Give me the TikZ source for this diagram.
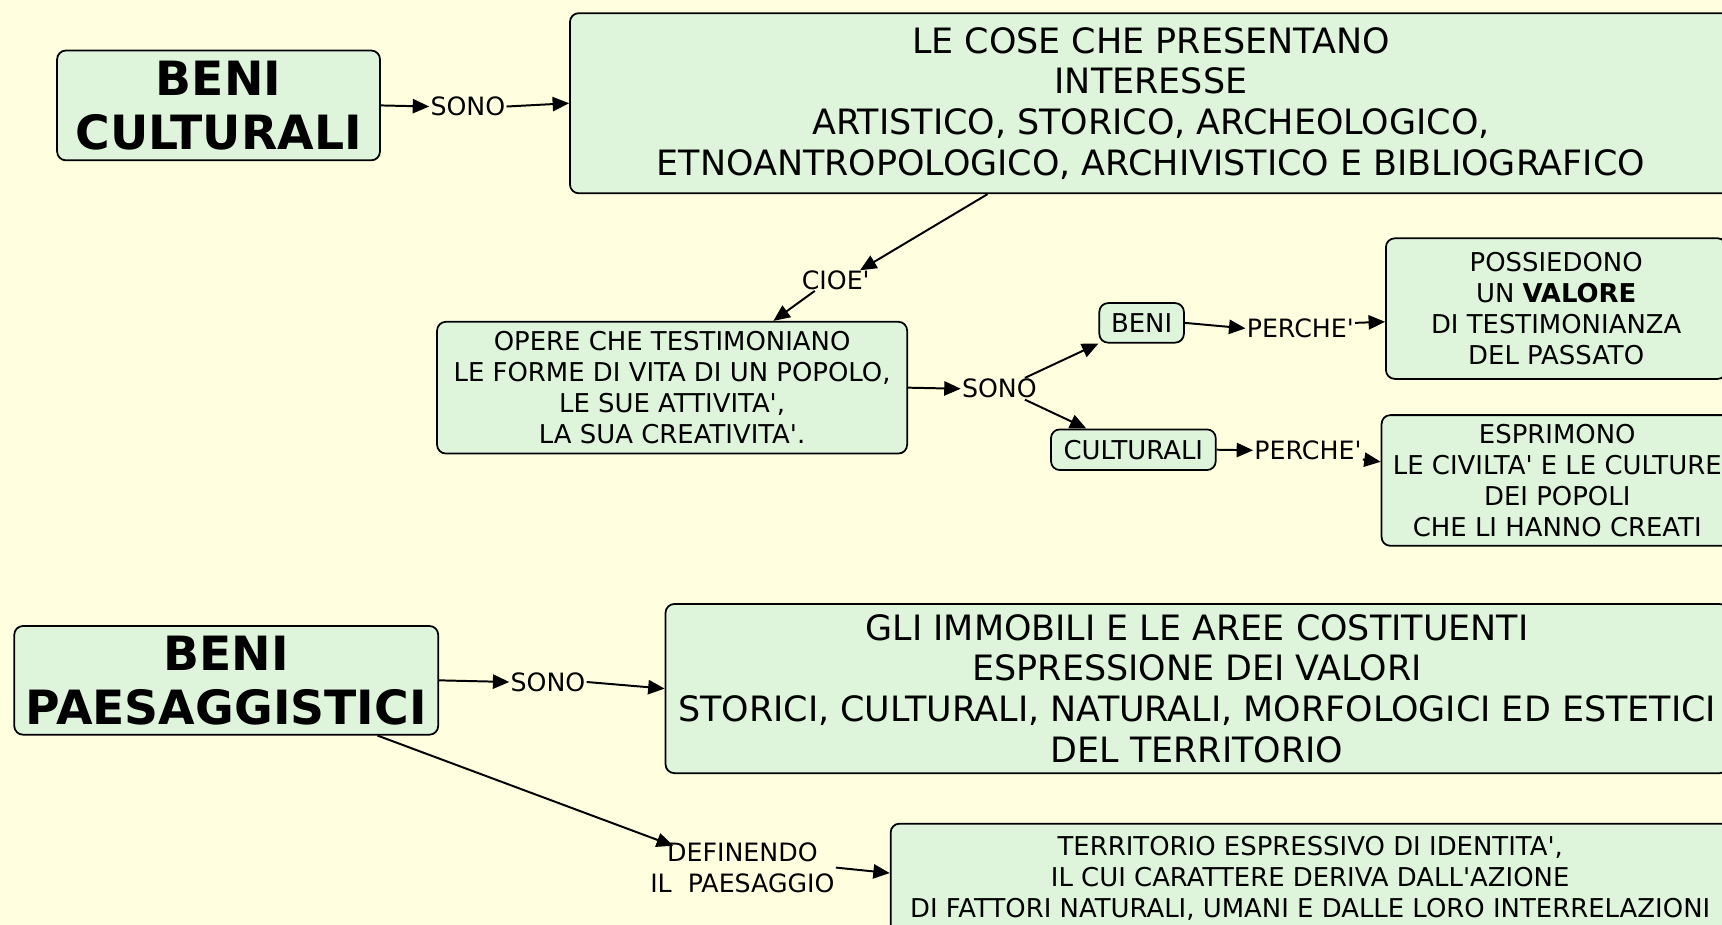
\documentclass[tikz,border=0pt]{standalone}
\usepackage{fontspec}
\setmainfont{DejaVu Sans}
\usetikzlibrary{arrows.meta}
\definecolor{bgcol}{HTML}{FFFFE0}
\definecolor{boxfill}{HTML}{DEF5DC}
\newcommand\qt{\textquotesingle}
\begin{document}
\begin{tikzpicture}[x=1pt,y=-1pt,
  box/.style={draw=black, line width=1.6pt, fill=boxfill, rounded corners=8pt, align=center, inner sep=0pt},
  big/.style={font=\fontsize{31.8}{37}\selectfont},
  mid/.style={font=\fontsize{23.6}{28}\selectfont},
  ttl/.style={font=\bfseries\fontsize{43}{49}\selectfont},
  lab/.style={font=\fontsize{23}{28}\selectfont, inner sep=1pt, align=center},
  arr/.style={draw=black, line width=1.8pt, -{Triangle[length=15pt,width=13pt]}},
]
\useasboundingbox (0,0) rectangle (1568,842);
\clip (0,0) rectangle (1568,842);
\fill[bgcol] (0,0) rectangle (1568,842);

\node[box,ttl,minimum width=294pt,minimum height=100pt] (bc) at (199,96) {BENI\\CULTURALI};
\node[box,big,minimum width=1058pt,minimum height=164pt] (top) at (1048,94) {LE COSE CHE PRESENTANO\\INTERESSE\\ARTISTICO, STORICO, ARCHEOLOGICO,\\ETNOANTROPOLOGICO, ARCHIVISTICO E BIBLIOGRAFICO};
\node[lab] (s1) at (426,97) {SONO};

\node[lab] (cioe) at (761,255) {CIOE\qt};
\node[box,mid,minimum width=428pt,minimum height=120pt] (opere) at (612,353) {OPERE CHE TESTIMONIANO\\LE FORME DI VITA DI UN POPOLO,\\LE SUE ATTIVITA\qt,\\LA SUA CREATIVITA\qt.};
\node[lab] (s2) at (910,354) {SONO};
\node[box,mid,minimum width=77pt,minimum height=36pt] (beni) at (1039.5,294) {BENI};
\node[box,mid,minimum width=150pt,minimum height=37pt] (cult) at (1032,409.5) {CULTURALI};
\node[lab] (p1) at (1184,299) {PERCHE\qt};
\node[lab] (p2) at (1191,410) {PERCHE\qt};
\node[box,mid,minimum width=310pt,minimum height=128pt] (poss) at (1417,281) {POSSIEDONO\\UN \textbf{VALORE}\\DI TESTIMONIANZA\\DEL PASSATO};
\node[box,mid,minimum width=320pt,minimum height=119pt] (esp) at (1418,437.5) {ESPRIMONO\\LE CIVILTA\qt{} E LE CULTURE\\DEI POPOLI\\CHE LI HANNO CREATI};

\node[box,ttl,minimum width=386pt,minimum height=99pt] (bp) at (206,619.5) {BENI\\PAESAGGISTICI};
\node[lab] (s3) at (499,621) {SONO};
\node[box,big,minimum width=968pt,minimum height=154pt] (gli) at (1090,627) {GLI IMMOBILI E LE AREE COSTITUENTI\\ESPRESSIONE DEI VALORI\\STORICI, CULTURALI, NATURALI, MORFOLOGICI ED ESTETICI\\DEL TERRITORIO};
\node[lab] (def) at (676,790) {DEFINENDO\\IL\ \ PAESAGGIO};
\node[box,mid,minimum width=764pt,minimum height=100pt] (bot) at (1193,800) {TERRITORIO ESPRESSIVO DI IDENTITA\qt,\\IL CUI CARATTERE DERIVA DALL\qt AZIONE\\DI FATTORI NATURALI, UMANI E DALLE LORO INTERRELAZIONI};

\draw[arr] (bc.east) -- (s1.west);
\draw[arr] (s1.east) -- (top.west);
\draw[arr] ([xshift=381pt]top.south west) -- ([xshift=-10pt,yshift=-1pt]cioe.north east);
\draw[arr] ([xshift=13pt]cioe.south west) -- ([xshift=307pt]opere.north west);
\draw[arr] (opere.east) -- (s2.west);
\draw[arr] ([xshift=-12pt]s2.north east) -- (beni.south west);
\draw[arr] ([xshift=-12pt]s2.south east) -- ([xshift=33pt]cult.north west);
\draw[arr] (beni.east) -- (p1.west);
\draw[arr] ([yshift=5pt]p1.east) -- ([yshift=-12pt]poss.west);
\draw[arr] (cult.east) -- (p2.west);
\draw[arr] (p2.base east) -- ([yshift=17pt]esp.west);
\draw[arr] (bp.east) -- (s3.west);
\draw[arr] (s3.east) -- (gli.west);
\draw[arr] ([xshift=-56pt]bp.south east) -- ([xshift=22pt,yshift=-4pt]def.north west);
\draw[arr] (def.east) -- ([yshift=5pt]bot.west);
\end{tikzpicture}
\end{document}
